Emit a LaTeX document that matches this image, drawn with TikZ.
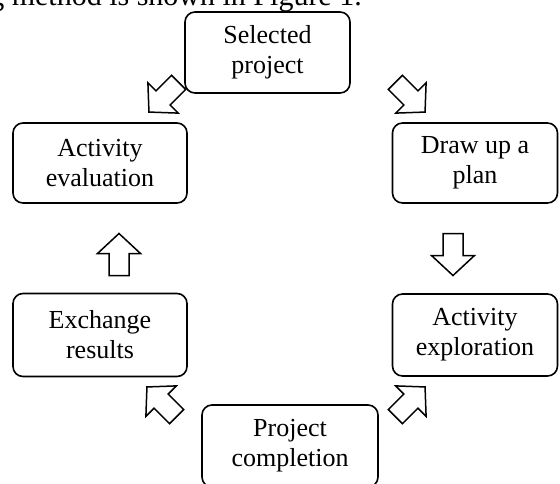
\documentclass[tikz,border=0pt]{standalone}
\usepackage{fontspec}
\setmainfont{Liberation Serif}
\begin{document}
\begin{tikzpicture}[x=1pt,y=-1pt,
  box/.style={draw=black, line width=1.6pt, rounded corners=10pt, align=center,
    inner sep=0pt, font=\fontsize{26}{30}\selectfont},
  blockarrow/.pic={\draw[line width=1.5pt, line join=miter, fill=white]
    (-21,-10) -- (1,-10) -- (1,-21.5) -- (21,0) -- (1,21.5) -- (1,10) -- (-21,10) -- cycle;}
]
\clip (0,0) rectangle (560,483);
\fill[white] (0,0) rectangle (560,483);
\node[anchor=base east, inner sep=0pt, font=\fontsize{30}{34}\selectfont] (cap) at (362,5) {ing method is shown in Figure 1.};
\node[box, minimum width=165pt, minimum height=81pt] (sel) at (267.5,52.5) {Selected\\project};
\node[box, minimum width=174pt, minimum height=80pt] (eval) at (100,163) {Activity\\evaluation};
\node[box, minimum width=165pt, minimum height=80pt] (plan) at (475,163) {Draw up a\\plan};
\node[box, minimum width=174pt, minimum height=83pt] (exch) at (100,335) {Exchange\\results};
\node[box, minimum width=165pt, minimum height=82pt] (expl) at (475,335) {Activity\\exploration};
\node[box, minimum width=176pt, minimum height=82pt] (comp) at (290,446) {Project\\completion};
\pic[rotate=-135] at (163.8,97.2) {blockarrow};
\pic[rotate=-45] at (410.2,97.2) {blockarrow};
\pic[rotate=-90] at (453,254.5) {blockarrow};
\pic[rotate=45] at (410.2,401.8) {blockarrow};
\pic[rotate=135] at (161.8,401.8) {blockarrow};
\pic[rotate=90] at (119,254.5) {blockarrow};
\end{tikzpicture}
\end{document}
